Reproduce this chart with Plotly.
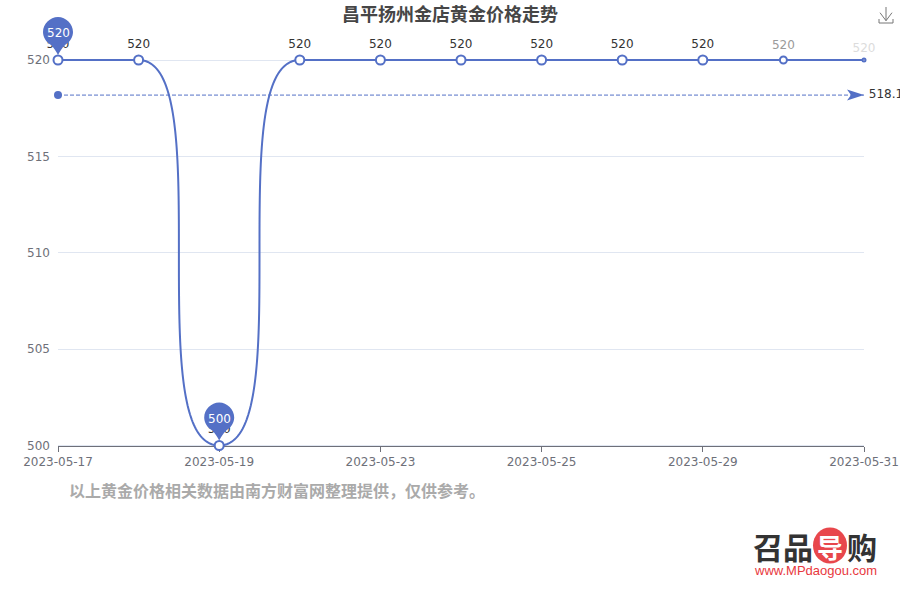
import plotly.graph_objects as go

dates = ["2023-05-17", "2023-05-18", "2023-05-19", "2023-05-20", "2023-05-23", "2023-05-24",
         "2023-05-25", "2023-05-26", "2023-05-29", "2023-05-30", "2023-05-31"]
prices = [520, 520, 500, 520, 520, 520, 520, 520, 520, 520, 520]
mean_price = [518.18]
y_ticks = [500, 505, 510, 515, 520]
title = "昌平扬州金店黄金价格走势"
note = "以上黄金价格相关数据由南方财富网整理提供，仅供参考。"

W, H = 900, 600
# the plot area is padded beyond the reference's axis box so that lines and pins are not clipped
L, R, T, B = 58, 36, 0, 146
PW, PH = W - L - R, H - T - B
AXIS_TOP, AXIS_BOTTOM = 60, 445.5
BLUE = "#5470c6"


def px(x):
    return (x - L) / PW


def py(y):
    return (H - B - y) / PH


def smooth_path(values, steps=120):
    """Flat-tangent cubic between neighbouring values (the reference's smooth line)."""
    xs, ys = [], []
    for i in range(len(values) - 1):
        y0, y1 = values[i], values[i + 1]
        for s in range(steps):
            t = s / steps
            u = 1 - t
            xs.append(i + 3 * u * u * t + t ** 3)
            ys.append(y0 + (y1 - y0) * (3 * u * t * t + t ** 3))
    xs.append(len(values) - 1)
    ys.append(values[-1])
    return xs, ys


idx = list(range(len(dates)))
cx, cy = smooth_path(prices)
low = min(prices)
high = max(prices)
per_px = (high - low) / (AXIS_BOTTOM - AXIS_TOP)
y_range = [low - (H - B - AXIS_BOTTOM) * per_px, high + (AXIS_TOP - T) * per_px]


def frac_x(i):
    return (i - idx[0]) / (idx[-1] - idx[0])


def frac_y(v):
    return (v - y_range[0]) / (y_range[1] - y_range[0])


fig = go.Figure()
fig.add_trace(go.Scatter(x=cx, y=cy, mode="lines", line=dict(color=BLUE, width=2, simplify=False),
                         cliponaxis=False, hoverinfo="skip", showlegend=False))
fig.add_trace(go.Scatter(
    x=idx, y=prices, mode="markers",
    marker=dict(color="#ffffff", opacity=1, size=[9] * 9 + [7, 3], line=dict(color=BLUE, width=2)),
    cliponaxis=False, showlegend=False))
label_colors = ["#333333"] * 9 + ["#9a9a9a", "#dcdcdc"]
fig.add_trace(go.Scatter(
    x=idx, y=prices, mode="markers+text", text=[str(v) for v in prices],
    textposition="top center", textfont=dict(family="DejaVu Sans", size=12, color=label_colors),
    marker=dict(size=[13] * 9 + [11, 7], opacity=0),
    cliponaxis=False, hoverinfo="skip", showlegend=False))
# average line
fig.add_trace(go.Scatter(
    x=[idx[0], idx[-1]], y=mean_price * 2, mode="lines",
    line=dict(color=BLUE, width=1, dash="4px,2px"),
    cliponaxis=False, hoverinfo="skip", showlegend=False))
fig.add_trace(go.Scatter(
    x=[idx[0]], y=mean_price, mode="markers", marker=dict(color=BLUE, size=8),
    cliponaxis=False, hoverinfo="skip", showlegend=False))
fig.add_trace(go.Scatter(
    x=[idx[-1]], y=mean_price, mode="markers+text", text=[f"{mean_price[0]:.2f}"],
    textposition="middle right", textfont=dict(family="DejaVu Sans", size=12, color="#333333"),
    marker=dict(size=6, opacity=0), cliponaxis=False, hoverinfo="skip", showlegend=False))

PIN = ("M 0,5 C -2,9 -4,12 -7,15 C -12,18 -15,23 -15,28 C -15,36 -8,43 0,43 "
       "C 8,43 15,36 15,28 C 15,23 12,18 7,15 C 4,12 2,9 0,5 Z")
shapes = []
annotations = []
for i, v in enumerate(prices):
    if (v == high and i == 0) or v == low:
        # paper references keep the pin from being clipped at the plot edge
        shapes.append(dict(type="path", xref="paper", yref="paper", xsizemode="pixel", ysizemode="pixel",
                           xanchor=frac_x(i), yanchor=frac_y(v), path=PIN, fillcolor=BLUE,
                           line=dict(width=0), layer="above"))
        annotations.append(dict(x=i, y=v, xref="x", yref="y", text=str(v), showarrow=False,
                                yshift=27, font=dict(family="DejaVu Sans", size=12, color="#ffffff")))
# average arrow head
shapes.append(dict(type="path", xref="x", yref="y", xsizemode="pixel", ysizemode="pixel",
                   xanchor=idx[-1], yanchor=mean_price[0],
                   path="M 0,0 L -17,5.5 L -13,0 L -17,-5.5 Z", fillcolor=BLUE,
                   line=dict(width=0), layer="above"))
# download icon
shapes.append(dict(type="path", xref="paper", yref="paper", xsizemode="pixel", ysizemode="pixel",
                   xanchor=px(879), yanchor=py(23),
                   path="M 0,4 L 0,0 L 14,0 L 14,4 M 1,10.3 L 7,2.3 L 13,10.3 M 7,2.3 L 7,16",
                   line=dict(color="#777777", width=1)))
# logo circle
shapes.append(dict(type="circle", xref="paper", yref="paper", xsizemode="pixel", ysizemode="pixel",
                   xanchor=px(830), yanchor=py(545.5), x0=-17, x1=17, y0=-18, y1=18,
                   fillcolor="#e8474c", line=dict(width=0), layer="below"))

CJK = "Noto Sans CJK SC"
annotations += [
    dict(x=px(450), y=py(13.5), text=f"<b>{title}</b>", font=dict(family=CJK, size=18, color="#464646")),
    dict(x=px(67), y=py(490), xanchor="left", text=f"<b>{note}</b>", font=dict(family=CJK, size=16, color="#aaaaaa")),
    dict(x=px(783), y=py(546), text="<b>召品</b>", font=dict(family=CJK, size=30, color="#333333")),
    dict(x=px(830), y=py(546), text="<b>导</b>", font=dict(family=CJK, size=26, color="#ffffff")),
    dict(x=px(862), y=py(546), text="<b>购</b>", font=dict(family=CJK, size=30, color="#333333")),
    dict(x=px(815), y=py(570), text="www.MPdaogou.com", font=dict(family="Liberation Sans", size=13, color="#e8383d")),
]
for a in annotations:
    a.setdefault("xref", "paper")
    a.setdefault("yref", "paper")
    a.setdefault("showarrow", False)
    a.setdefault("xanchor", "center")
    a.setdefault("yanchor", "middle")

fig.update_layout(
    template="none",
    width=W, height=H, autosize=False,
    margin=dict(l=L, r=R, t=T, b=B, pad=0),
    paper_bgcolor="#ffffff", plot_bgcolor="#ffffff",
    showlegend=False,
    shapes=shapes, annotations=annotations,
    xaxis=dict(range=[idx[0], idx[-1]], tickmode="array", tickvals=idx[::2], ticktext=dates[::2],
               ticks="outside", ticklen=5, tickcolor="#6e7079", tickwidth=1, automargin=False,
               anchor="free", position=py(AXIS_BOTTOM), layer="below traces",
               showgrid=False, showline=True, linecolor="#6e7079", linewidth=1, zeroline=False,
               tickfont=dict(family="DejaVu Sans", size=12, color="#6e7079")),
    yaxis=dict(range=y_range, tickmode="array", tickvals=y_ticks, ticks="", showline=False,
               gridcolor="#e0e6f1", gridwidth=1, zeroline=False, automargin=False,
               ticklabelstandoff=7,
               tickfont=dict(family="DejaVu Sans", size=12, color="#6e7079")),
)
fig.write_html("out.html", config=dict(displayModeBar=False),
               post_script="document.body.style.margin='0';")
